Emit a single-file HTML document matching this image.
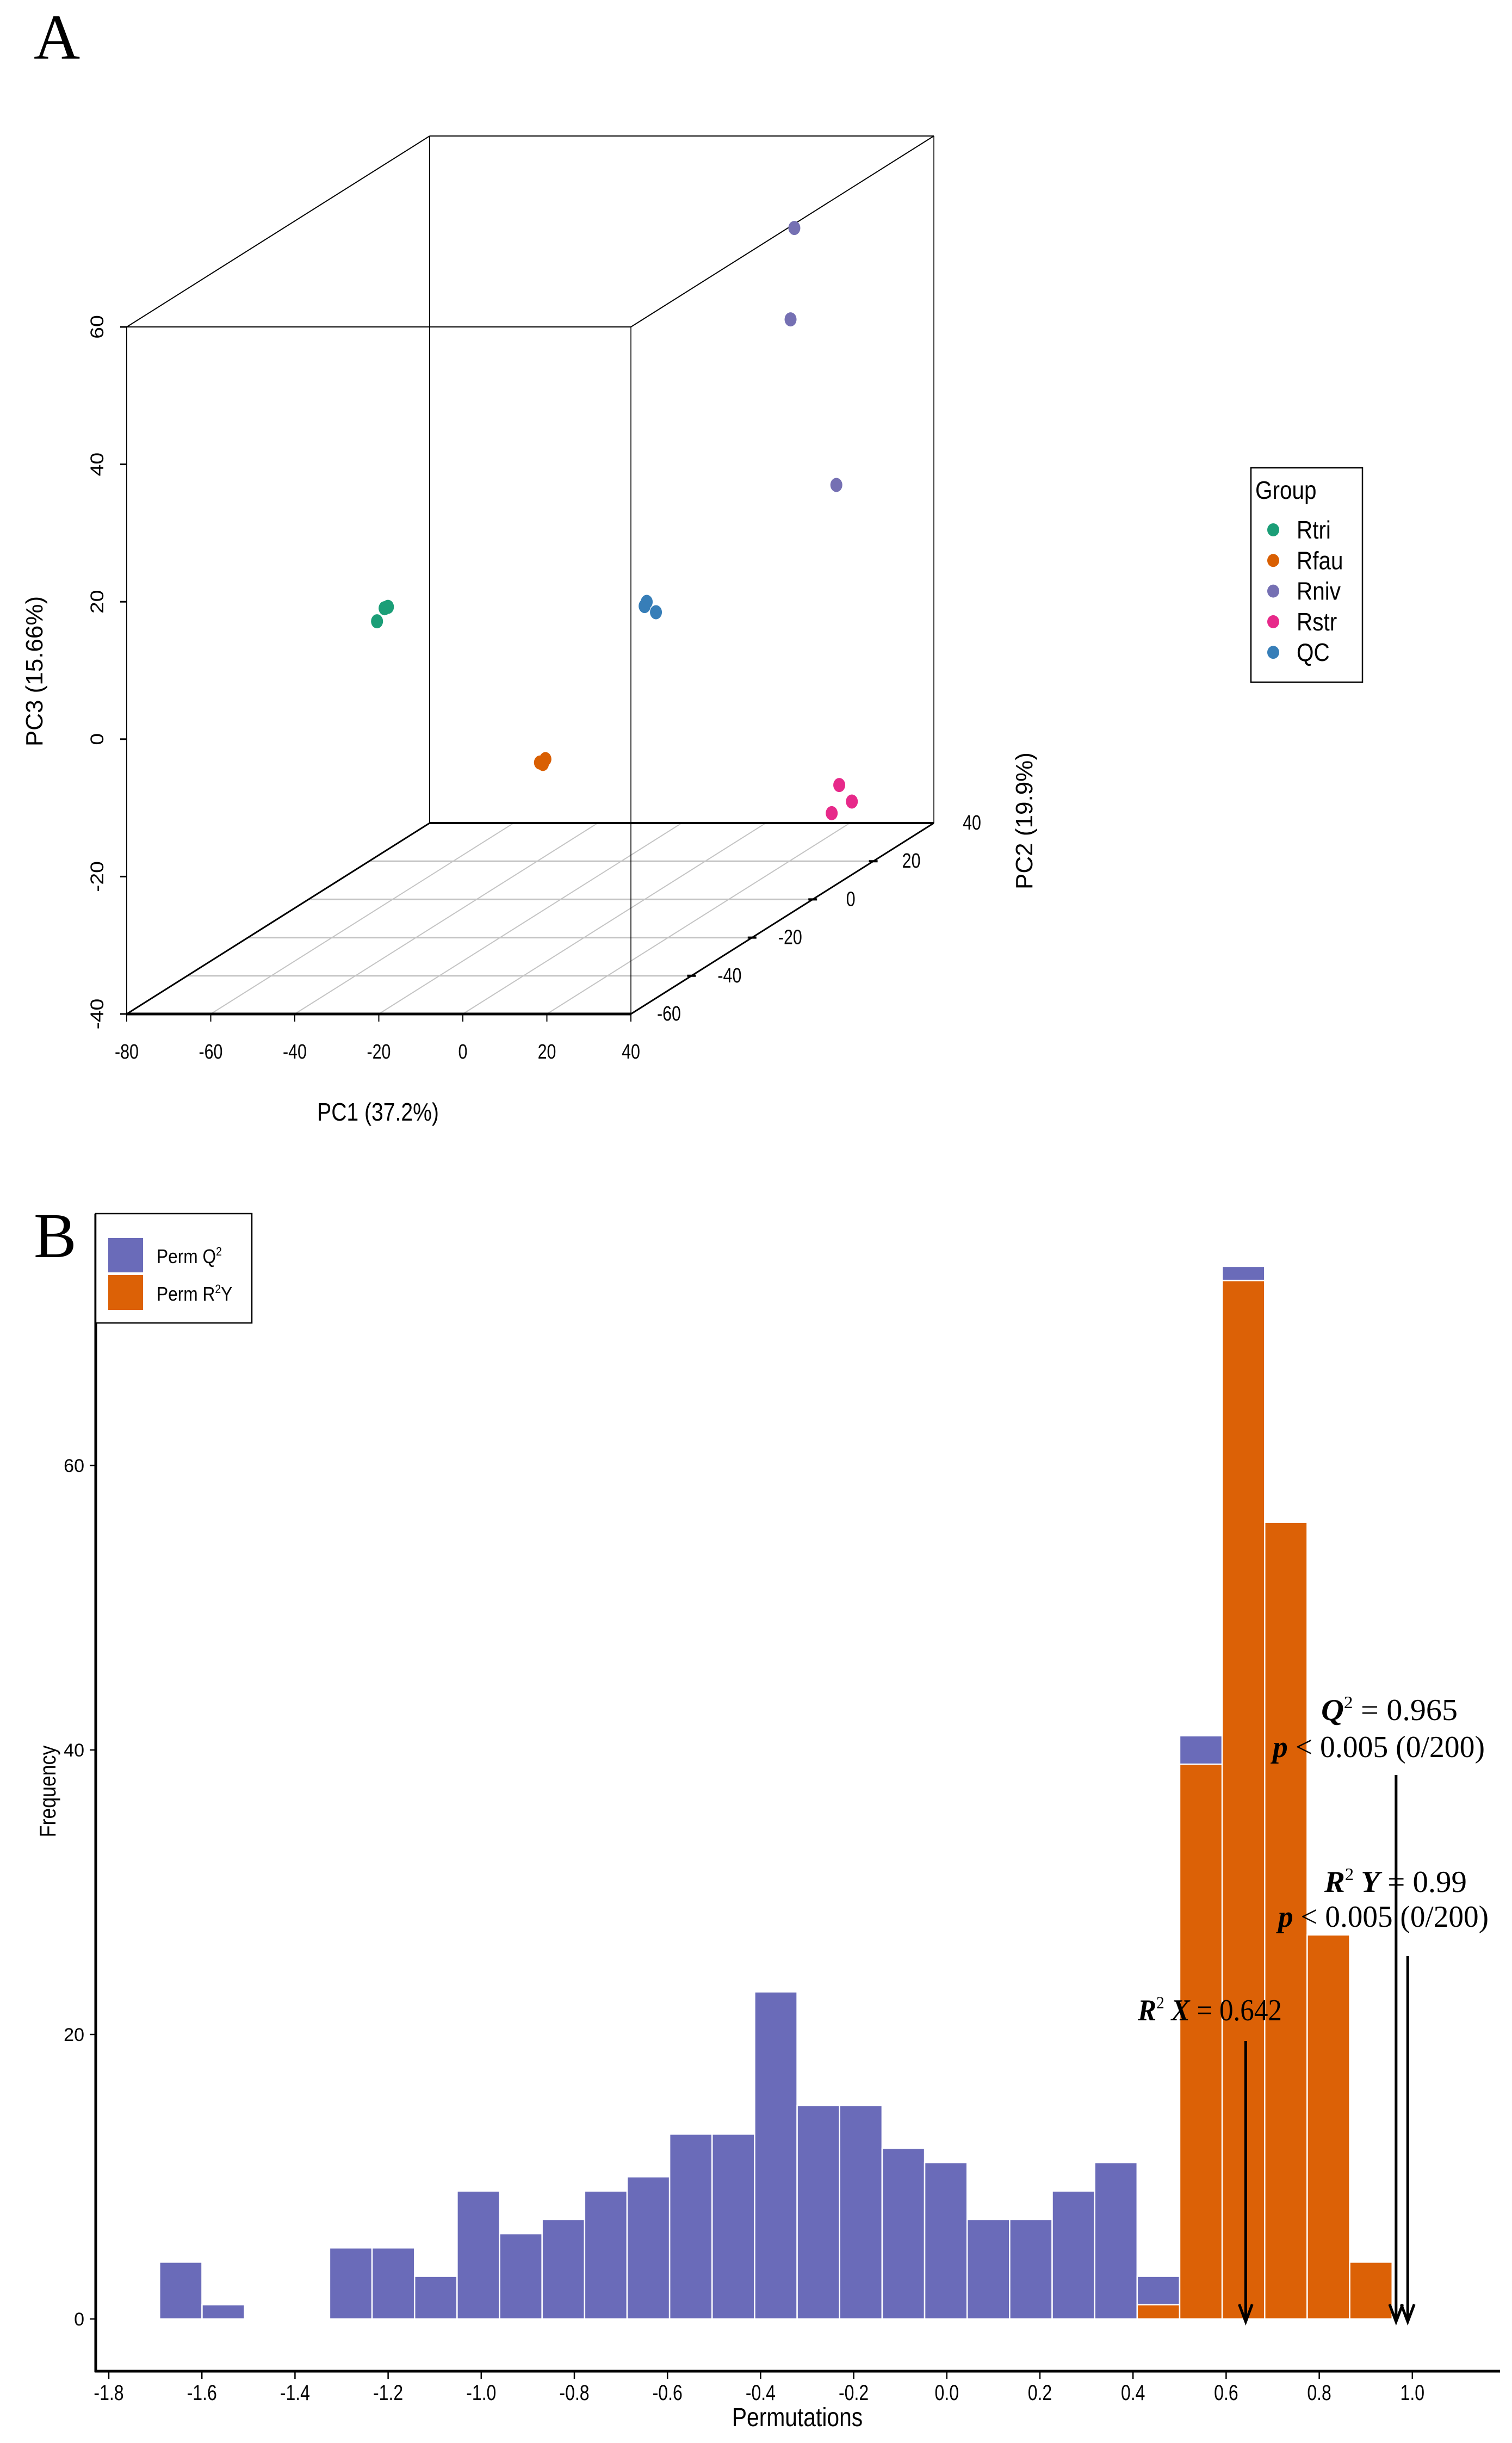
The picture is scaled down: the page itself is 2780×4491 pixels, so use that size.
<!DOCTYPE html>
<html><head><meta charset="utf-8"><style>
html,body{margin:0;padding:0;background:#fff;}
svg{display:block;}
text{font-family:"Liberation Sans",sans-serif;}
.serif{font-family:"Liberation Serif",serif;}
</style></head><body>
<svg id="fig" width="2780" height="4491" viewBox="0 0 2780 4491" xmlns="http://www.w3.org/2000/svg">
<g id="pa"></g>
<g id="pb"></g>
</svg>
<script>
// ===== Panel A data =====
const groupNames = ["Rtri","Rfau","Rniv","Rstr","QC"];
const groupColors = ["#1b9e77","#d95f02","#7570b3","#e7298a","#377eb8"];
const ptGroup = [0,0,0,1,1,1,2,2,2,3,3,3,4,4,4];
const ptPC1 = [-69.1,-68.3,-70.9,-17.7,-16.4,-17.0,10.4,9.5,20.4,28.3,31.3,26.5,0.5,0.0,2.7];
const ptPC2 = [10,10,10,-10,-10,-10,35,35,35,25,25,25,0,0,0];
const ptPC3 = [-0.4,-0.2,-2.3,-17.3,-16.8,-17.5,48.0,34.7,10.6,-30.3,-32.7,-34.4,3.3,2.7,1.8];
const pc1Ticks = [-80,-60,-40,-20,0,20,40];
const pc2Ticks = [-60,-40,-20,0,20,40];
const pc3Ticks = [-40,-20,0,20,40,60];

// ===== Panel B data =====
const binStart = -1.691;
const binWidth = 0.0913;
const permQ2 = [4,1,0,0,5,5,3,9,6,7,9,10,13,13,23,15,15,12,11,7,7,9,11,3,41,74,0,0,0];
const permR2Y = [0,0,0,0,0,0,0,0,0,0,0,0,0,0,0,0,0,0,0,0,0,0,0,1,39,73,56,27,4];
const xTicks = [-1.8,-1.6,-1.4,-1.2,-1.0,-0.8,-0.6,-0.4,-0.2,0.0,0.2,0.4,0.6,0.8,1.0];
const yTicks = [0,20,40,60];
const statR2X = 0.642, statQ2 = 0.965, statR2Y = 0.99;

const NS="http://www.w3.org/2000/svg";
function mk(parent,tag,attrs,txt){const e=document.createElementNS(NS,tag);for(const k in attrs)e.setAttribute(k,attrs[k]);if(txt!==undefined)e.textContent=txt;parent.appendChild(e);return e;}

// ---------- Panel A ----------
const pa=document.getElementById('pa');
const FX0=233, FX1=1160, FYB=1864, FYT=601, DX=557, DY=-351;
function px(a,b,c){const d=(b+60)/100;return FX0+(a+80)/120*(FX1-FX0)+d*DX;}
function py(a,b,c){const d=(b+60)/100;return FYB-(c+40)/100*(FYB-FYT)+d*DY;}
let t=mk(pa,'text',{x:62,y:108,'font-size':118,'class':'serif'},'A');


const grid=mk(pa,'g',{stroke:'#c4c4c4','stroke-width':3});


pc2Ticks.slice(1,5).forEach(v=>{mk(grid,'line',{x1:px(-80,v,-40),y1:py(-80,v,-40),x2:px(40,v,-40),y2:py(40,v,-40)});});
pc1Ticks.slice(1,6).forEach(v=>{mk(grid,'line',{x1:px(v,-60,-40),y1:py(v,-60,-40),x2:px(v,40,-40),y2:py(v,40,-40),'stroke-width':2});});
const box=mk(pa,'g',{stroke:'#000',fill:'none','stroke-width':2});


function L(a,b,w){mk(box,'line',{x1:px(...a),y1:py(...a),x2:px(...b),y2:py(...b),'stroke-width':w||2});}
L([-80,-60,-40],[40,-60,-40],5);L([-80,40,-40],[40,40,-40],4);L([40,-60,-40],[40,40,-40],3);L([-80,-60,-40],[-80,40,-40],3);
L([-80,-60,-40],[-80,-60,60]);L([40,-60,-40],[40,-60,60],1.5);L([-80,40,-40],[-80,40,60]);L([40,40,-40],[40,40,60],1.5);
L([-80,-60,60],[40,-60,60]);L([-80,40,60],[40,40,60]);L([-80,-60,60],[-80,40,60]);L([40,-60,60],[40,40,60]);
pc1Ticks.forEach(v=>{const x=px(v,-60,-40);mk(box,'line',{x1:x,y1:FYB,x2:x,y2:FYB+14,'stroke-width':2});
 t=mk(pa,'text',{x:x,y:1946,'font-size':38,'text-anchor':'middle',transform:`translate(${x},0) scale(0.8,1) translate(${-x},0)`},String(v));
 
 });
pc2Ticks.forEach(v=>{const x=px(40,v,-40),y=py(40,v,-40);if(v>-60&&v<40)mk(box,'line',{x1:x-8,y1:y,x2:x+8,y2:y,'stroke-width':4});
 const lx=x+70,ly=y+12;
 t=mk(pa,'text',{x:lx,y:ly,'font-size':38,'text-anchor':'middle',transform:`translate(${lx},0) scale(0.8,1) translate(${-lx},0)`},String(v));
 
 });
pc3Ticks.forEach(v=>{const y=py(-80,-60,v);mk(box,'line',{x1:FX0-12,y1:y,x2:FX0,y2:y,'stroke-width':3});
 t=mk(pa,'text',{x:0,y:0,'font-size':34,'text-anchor':'middle',transform:`translate(190,${y}) rotate(-90) scale(1.15,1)`},String(v));
 
 });
t=mk(pa,'text',{x:0,y:0,'font-size':44,'text-anchor':'middle',transform:'translate(78,1234) rotate(-90)'},'PC3 (15.66%)');


t=mk(pa,'text',{x:695,y:2060,'font-size':46,'text-anchor':'middle',transform:'translate(695,0) scale(0.85,1) translate(-695,0)'},'PC1 (37.2%)');


t=mk(pa,'text',{x:0,y:0,'font-size':44,'text-anchor':'middle',transform:'translate(1898,1509) rotate(-90)'},'PC2 (19.9%)');


ptPC1.forEach((v,i)=>{const c=mk(pa,'ellipse',{cx:px(v,ptPC2[i],ptPC3[i]),cy:py(v,ptPC2[i],ptPC3[i]),rx:11,ry:13,fill:groupColors[ptGroup[i]]});
 
 });
const lg=mk(pa,'g',{});


mk(lg,'rect',{x:2300,y:860,width:205,height:394,fill:'#fff',stroke:'#000','stroke-width':2.5});
t=mk(lg,'text',{x:2308,y:917,'font-size':46,transform:'translate(2308,0) scale(0.88,1) translate(-2308,0)'},'Group');


groupNames.forEach((g,i)=>{const y=974+i*56.3;mk(lg,'ellipse',{cx:2341,cy:y,rx:11,ry:12,fill:groupColors[i]});
 t=mk(lg,'text',{x:2384,y:y+16,'font-size':46,transform:'translate(2384,0) scale(0.88,1) translate(-2384,0)'},g);
 
 });

// ---------- Panel B ----------
const pb=document.getElementById('pb');
const BX0=200, BXU=856, BY0=4263, BYU=26.15;
const xs=v=>BX0+(v+1.8)*BXU, ys=v=>BY0-v*BYU;
t=mk(pb,'text',{x:62,y:2311,'font-size':118,'class':'serif'},'B');


permQ2.forEach((v,i)=>{if(!v)return;const x0=xs(binStart+i*binWidth),x1=xs(binStart+(i+1)*binWidth);
 const r=mk(pb,'rect',{x:x0,y:ys(v),width:x1-x0,height:BY0-ys(v),fill:'#6a6bb9',stroke:'#fff','stroke-width':2.5});
 
 });
permR2Y.forEach((v,i)=>{if(!v)return;const x0=xs(binStart+i*binWidth),x1=xs(binStart+(i+1)*binWidth);
 const r=mk(pb,'rect',{x:x0,y:ys(v),width:x1-x0,height:BY0-ys(v),fill:'#dc6106',stroke:'#fff','stroke-width':2.5});
 
 });
mk(pb,'line',{x1:176,y1:2231,x2:176,y2:4361,stroke:'#000','stroke-width':5});
mk(pb,'line',{x1:174,y1:4359,x2:2758,y2:4359,stroke:'#000','stroke-width':5});
xTicks.forEach(v=>{const x=xs(v);mk(pb,'line',{x1:x,y1:4359,x2:x,y2:4373,stroke:'#000','stroke-width':2.5});
 t=mk(pb,'text',{x:x,y:4412,'font-size':40,'text-anchor':'middle',transform:`translate(${x},0) scale(0.8,1) translate(${-x},0)`},v.toFixed(1));
 
 });
yTicks.forEach(v=>{const y=ys(v);mk(pb,'line',{x1:165,y1:y,x2:176,y2:y,stroke:'#000','stroke-width':2.5});
 t=mk(pb,'text',{x:155,y:y+12,'font-size':34,'text-anchor':'end'},String(v));
 
 });
t=mk(pb,'text',{x:1466,y:4460,'font-size':48,'text-anchor':'middle',transform:'translate(1466,0) scale(0.85,1) translate(-1466,0)'},'Permutations');


t=mk(pb,'text',{x:0,y:0,'font-size':42,'text-anchor':'middle',transform:'translate(102,3293) rotate(-90) scale(0.85,1)'},'Frequency');


const lb=mk(pb,'g',{});


mk(lb,'rect',{x:176,y:2231,width:287,height:201,fill:'#fff',stroke:'#000','stroke-width':2.5});
mk(lb,'rect',{x:199,y:2276,width:64,height:63,fill:'#6a6bb9'});
mk(lb,'rect',{x:199,y:2344,width:64,height:64,fill:'#dc6106'});
t=mk(lb,'text',{x:288,y:2322,'font-size':36,transform:'translate(288,0) scale(0.88,1) translate(-288,0)'});
t.innerHTML='Perm Q<tspan dy="-14" font-size="22">2</tspan>';


t=mk(lb,'text',{x:288,y:2391,'font-size':36,transform:'translate(288,0) scale(0.88,1) translate(-288,0)'});
t.innerHTML='Perm R<tspan dy="-14" font-size="22">2</tspan><tspan dy="14">Y</tspan>';


const an=mk(pb,'g',{'font-size':56,fill:'#000'});


function ann(x,y,w,html,name){const e=mk(an,'text',{x:x,y:y,textLength:w,lengthAdjust:'spacingAndGlyphs','class':'serif'});e.innerHTML=html;
 
 }
const B='font-weight="bold" font-style="italic"';
ann(2429,3162,251,`<tspan ${B}>Q</tspan><tspan dy="-22" font-size="32">2</tspan><tspan dy="22"> = ${statQ2}</tspan>`,'q2-annotation');
ann(2340,3230,390,`<tspan ${B}>p</tspan> &lt; 0.005 (0/200)`,'q2-p-value');
ann(2435,3478,262,`<tspan ${B}>R</tspan><tspan dy="-22" font-size="32">2</tspan><tspan dy="22" ${B}> Y</tspan> = ${statR2Y}`,'r2y-annotation');
ann(2350,3542,387,`<tspan ${B}>p</tspan> &lt; 0.005 (0/200)`,'r2y-p-value');
ann(2092,3714,265,`<tspan ${B}>R</tspan><tspan dy="-22" font-size="32">2</tspan><tspan dy="22" ${B}> X</tspan> = ${statR2X}`,'r2x-annotation');
function arrow(v,top,name){const x=xs(v);const g=mk(pb,'g',{stroke:'#000','stroke-width':5,fill:'none'});
 
 
 mk(g,'line',{x1:x,y1:top,x2:x,y2:4266});mk(g,'polyline',{points:`${x-12},4236 ${x},4268 ${x+12},4236`});}
arrow(statR2X,3752,'r2x-arrow');arrow(statQ2,3263,'q2-arrow');arrow(statR2Y,3596,'r2y-arrow');
</script>
</body></html>
